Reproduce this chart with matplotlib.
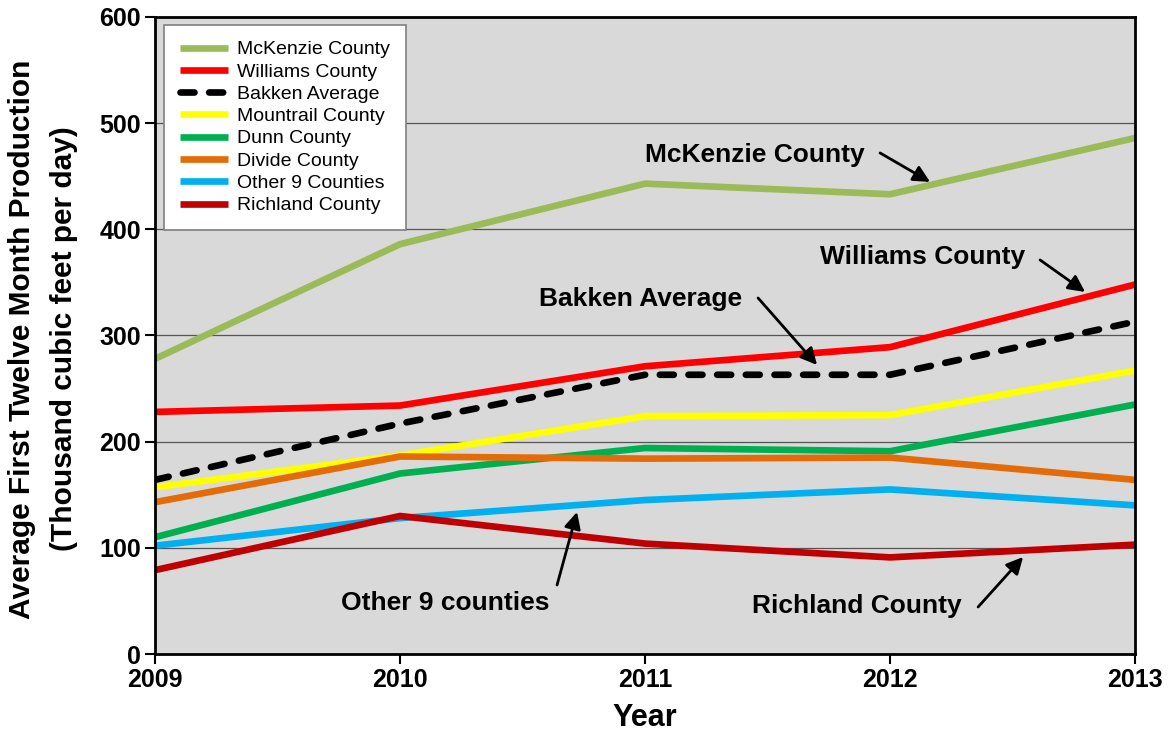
import matplotlib
matplotlib.use("Agg")
import matplotlib.pyplot as plt

plt.rcParams['font.family'] = ['Liberation Sans', 'DejaVu Sans']

years = [2009, 2010, 2011, 2012, 2013]
mckenzie = [278, 386, 443, 433, 486]
williams = [228, 234, 271, 289, 348]
bakken = [164, 217, 263, 263, 313]
mountrail = [157, 187, 224, 225, 267]
dunn = [110, 170, 194, 191, 235]
divide = [143, 186, 184, 185, 164]
other9 = [102, 128, 145, 155, 140]
richland = [79, 130, 104, 91, 103]

series = [
    ("McKenzie County", mckenzie, "#9BBB59", "-"),
    ("Williams County", williams, "#FF0000", "-"),
    ("Bakken Average", bakken, "#000000", "--"),
    ("Mountrail County", mountrail, "#FFFF00", "-"),
    ("Dunn County", dunn, "#00B050", "-"),
    ("Divide County", divide, "#E36C09", "-"),
    ("Other 9 Counties", other9, "#00B0F0", "-"),
    ("Richland County", richland, "#C00000", "-"),
]

fig = plt.figure(figsize=(11.69, 7.36), dpi=100)
ax = fig.add_axes([0.1326, 0.1114, 0.971 - 0.1326, 0.977 - 0.1114])
ax.set_facecolor("#D9D9D9")
ax.set_axisbelow(True)
ax.yaxis.grid(True, color="#555555", linewidth=0.9)

for name, vals, color, ls in series:
    if ls == "--":
        ax.plot(years, vals, color=color, linestyle=(0, (2.1, 2.2)), linewidth=4.8,
                label=name, dash_capstyle="round")
    else:
        ax.plot(years, vals, color=color, linestyle=ls, linewidth=4.8, label=name,
                solid_capstyle="butt")

ax.set_xlim(2009, 2013)
ax.set_ylim(0, 600)
ax.set_xticks(years)
ax.set_yticks(range(0, 601, 100))
for lab in ax.get_xticklabels() + ax.get_yticklabels():
    lab.set_fontweight("bold")
    lab.set_fontsize(18)
ax.tick_params(axis="both", direction="out", length=7, width=1.5, pad=3)
for sp in ax.spines.values():
    sp.set_linewidth(2)
    sp.set_color("black")

fig.text(0.5 * (155 + 1135) / 1169, 1 - 718 / 736, "Year", fontsize=22,
         fontweight="bold", ha="center", va="center")
fig.text(22 / 1169, 1 - 339 / 736, "Average First Twelve Month Production",
         fontsize=21.5, fontweight="bold", rotation=90, ha="center", va="center")
fig.text(64 / 1169, 1 - 339 / 736, "(Thousand cubic feet per day)",
         fontsize=21.5, fontweight="bold", rotation=90, ha="center", va="center")

leg = ax.legend(loc="upper left", bbox_to_anchor=(0.0095, 0.987), fontsize=14,
                frameon=True, fancybox=False, handlelength=2.5, labelspacing=0.24,
                borderpad=0.8, handletextpad=0.45, borderaxespad=0)
leg.get_frame().set_edgecolor("#808080")
leg.get_frame().set_facecolor("white")
leg.get_frame().set_alpha(1)
leg.get_frame().set_linewidth(1.2)

def px2data(px, py):
    x = 2009 + (px - 155) / (1135 - 155) * 4
    y = (654 - py) / (654 - 17) * 600
    return x, y

annots = [
    ("McKenzie County", (755, 155), (880, 153), (930, 182)),
    ("Williams County", (922, 257), (1040, 260), (1085, 292)),
    ("Bakken Average", (641, 299), (758, 298), (817, 365)),
    ("Other 9 counties", (445, 603), (557, 585), (577, 512)),
    ("Richland County", (857, 606), (978, 607), (1023, 557)),
]
for text, tpos, a0, a1 in annots:
    ax.text(*px2data(*tpos), text, ha="center", va="center", fontsize=19,
            fontweight="bold")
    ax.annotate("", xy=px2data(*a1), xytext=px2data(*a0),
                arrowprops=dict(arrowstyle="-|>,head_length=0.5,head_width=0.25",
                                color="black", lw=2,
                                mutation_scale=20, shrinkA=0, shrinkB=0))

fig.savefig("out.png", dpi=100)
